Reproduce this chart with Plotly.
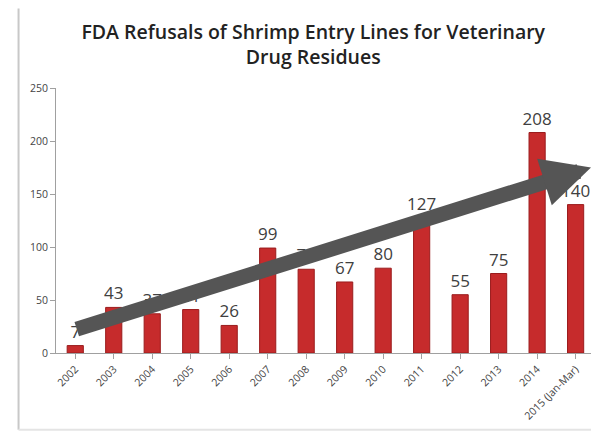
import plotly.graph_objects as go

years = ["2002", "2003", "2004", "2005", "2006", "2007", "2008", "2009",
         "2010", "2011", "2012", "2013", "2014", "2015 (Jan-Mar)"]
refusals = [7, 43, 37, 41, 26, 99, 79, 67, 80, 127, 55, 75, 208, 140]
y_ticks = [0, 50, 100, 150, 200, 250]

# trend arrow end points (category index, value)
arrow_tail = (0.0, 22)
arrow_head = (13.4, 175)

fig = go.Figure()
fig.add_trace(go.Bar(
    x=list(range(len(years))), y=refusals,
    width=0.42,
    marker=dict(color="#C62B2C", line=dict(color="#9A1C1D", width=1)),
    text=[str(v) for v in refusals], textposition="outside",
    textfont=dict(family="Open Sans, Liberation Sans, sans-serif", size=17, color="#404040"),
    constraintext="none",
    cliponaxis=False,
))

fig.add_annotation(
    x=arrow_head[0], y=arrow_head[1], ax=arrow_tail[0], ay=arrow_tail[1],
    xref="x", yref="y", axref="x", ayref="y",
    text="", showarrow=True, arrowhead=2, arrowsize=0.65, arrowwidth=15,
    arrowcolor="#555555", standoff=0,
)

fig.update_layout(
    width=591, height=433,
    margin=dict(l=56, r=0, t=88, b=80),
    paper_bgcolor="white", plot_bgcolor="white",
    showlegend=False,
    title=dict(
        text="FDA Refusals of Shrimp Entry Lines for Veterinary<br>Drug Residues",
        x=0.53, xanchor="center", y=0.91, yanchor="top",
        font=dict(family="Open Sans, Liberation Sans, sans-serif", size=19.5, color="#222222", weight=600),
    ),
    xaxis=dict(
        range=[-0.5, 13.4], tickmode="array", tickvals=list(range(len(years))), ticktext=years,
        tickangle=-45, tickfont=dict(family="Open Sans, sans-serif", size=10.5, color="#444444"),
        showline=True, linecolor="#A0A0A0", linewidth=1, showgrid=False,
        ticks="outside", ticklen=5, tickcolor="#A0A0A0", tickson="boundaries",
    ),
    yaxis=dict(
        range=[0, 250], tickmode="array", tickvals=y_ticks,
        tickfont=dict(family="Open Sans, sans-serif", size=10.5, color="#444444"),
        showline=True, linecolor="#A0A0A0", linewidth=1, showgrid=False,
        ticks="outside", ticklen=5, tickcolor="#A0A0A0", zeroline=False,
    ),
    shapes=[
        dict(type="line", xref="paper", yref="paper", x0=-0.07, x1=-0.07, y0=-0.29, y1=1.3,
             line=dict(color="#C8C8C8", width=2)),
        dict(type="line", xref="paper", yref="paper", x0=-0.07, x1=1.0, y0=-0.29, y1=-0.29,
             line=dict(color="#E4E4E4", width=2)),
    ],
)

fig.write_html("out.html")
